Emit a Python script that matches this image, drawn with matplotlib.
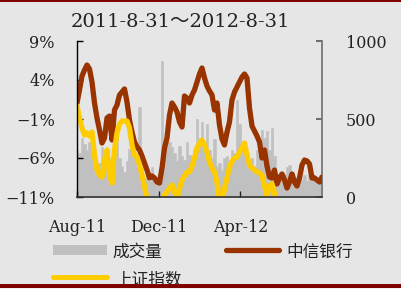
import matplotlib
matplotlib.use("Agg")
import matplotlib.pyplot as plt
from matplotlib.patches import Rectangle
from matplotlib.lines import Line2D

# ---------------- data ----------------
title = "2011-8-31～2012-8-31"
x_tick_labels = ["Aug-11", "Dec-11", "Apr-12"]
left_tick_values = [9, 4, -1, -6, -11]
left_tick_labels = ["9%", "4%", "−1%", "−6%", "−11%"]
right_tick_values = [0, 500, 1000]
series_names = ["成交量", "中信银行", "上证指数"]

citic = [1.05, 2.72, 4.51, 5.28, 5.92, 5.41, 3.74, 1.05, -0.87, -2.41,
         -4.08, -3.44, -0.87, -0.62, -3.69, 0.15, 0.79, 2.08, 2.46, 2.85,
         1.18, -1.13, -2.67, -3.95, -4.59, -4.97, -5.74, -6.64, -7.54, -8.56,
         -8.31, -8.56, -9.08, -9.21, -7.28, -4.72, -3.44, -0.49, 1.05, 0.54,
         -0.10, -1.38, -2.03, 1.95, 1.69, 1.05, 2.08, 2.72, 3.74, 4.77,
         5.54, 4.26, 3.23, 2.59, 2.08, 0.15, 1.05, -1.77, -3.56, -4.33,
         -2.67, -1.38, 1.44, 2.46, 3.10, 3.74, 4.38, 4.77, 4.26, 0.41,
         -1.90, -2.54, -3.18, -3.95, -6.00, -4.97, -7.03, -8.44, -8.56, -7.54,
         -9.33, -8.56, -8.05, -8.82, -9.85, -9.08, -8.05, -9.08, -9.59, -8.56,
         -6.90, -6.26, -6.38, -6.77, -8.56, -8.56, -8.82, -9.08, -8.44]

shindex = [0.67, -0.87, -2.15, -3.05, -2.79, -3.18, -2.67, -5.62, -7.54, -8.18,
           -8.44, -6.26, -4.97, -8.18, -9.21, -4.97, -2.79, -1.64, -1.26, -1.26,
           -1.26, -2.15, -4.33, -5.62, -5.87, -6.90, -8.18, -9.59, -11.38, -12.67,
           -13.3, -13.3, -12.9, -12.4, -11.8, -10.74, -10.36, -9.85, -9.46, -10.36,
           -11.13, -9.85, -8.82, -8.31, -7.79, -7.79, -7.03, -6.00, -4.72, -4.08,
           -3.69, -4.33, -5.23, -6.51, -7.28, -7.79, -9.08, -11.4, -11.6, -9.85,
           -8.56, -7.15, -6.38, -6.00, -5.87, -5.23, -4.72, -4.08, -5.62, -6.90,
           -7.28, -7.54, -7.79, -7.92, -8.18, -9.59, -10.87, -9.59, -9.33, -10.49,
           -11.6, -12.0, -12.5, -12.8, -13.0, -12.6, -12.9, -13.2, -13.0, -12.7,
           -12.4, -12.2, -12.5, -12.8, -13.0, -12.9, -13.1, -12.8, -12.6]

volume = [300, 280, 380, 340, 300, 350, 260, 200, 160, 220,
          320, 250, 180, 250, 200, 300, 380, 250, 200, 160,
          230, 310, 400, 250, 200, 580, 190, 120, 170, 100,
          190, 130, 80, 150, 870, 250, 330, 350, 320, 280,
          230, 330, 260, 240, 350, 270, 230, 300, 500, 380,
          480, 340, 470, 300, 250, 370, 200, 220, 170, 250,
          260, 220, 300, 280, 620, 470, 300, 360, 280, 220,
          250, 200, 300, 260, 430, 380, 420, 300, 440, 260,
          90, 110, 100, 150, 190, 205, 150, 120, 110, 130,
          110, 140, 100, 155, 120, 110, 100, 90, 100]

# ---------------- figure ----------------
W, H = 402, 289
BG = "#E6E6E6"
BROWN = "#993300"
YELLOW = "#FFCC00"
GRAY = "#C0C0C0"
BORDER = "#800000"

fig = plt.figure(figsize=(W / 100, H / 100), dpi=100, facecolor=BG)

x = list(range(len(citic)))
xv = list(range(len(volume)))
n_last = len(citic) - 1

ax = fig.add_axes([77 / W, (H - 197) / H, 245 / W, 156 / H])
ax2 = ax.twinx()
ax.set_zorder(ax2.get_zorder() + 1)
ax.patch.set_visible(False)
ax2.patch.set_visible(False)

# volume on the right axis
ax2.fill_between(xv, volume, 0, step="mid", color=GRAY, linewidth=0.4, edgecolor=GRAY)
ax2.set_ylim(0, 1000)
ax2.set_yticks(right_tick_values)
ax2.set_yticklabels([str(v) for v in right_tick_values])

# lines on the left axis
ax.plot(x, citic, color=BROWN, lw=3.8, solid_joinstyle="round", solid_capstyle="round")
ax.plot(x, shindex, color=YELLOW, lw=3.8, solid_joinstyle="round", solid_capstyle="round")
ax.set_ylim(-11, 9)
ax.set_xlim(0, n_last)
ax.set_yticks(left_tick_values)
ax.set_yticklabels(left_tick_labels)
ax.set_xticks([0, n_last / 3, 2 * n_last / 3])
ax.set_xticklabels(x_tick_labels)

for a in (ax, ax2):
    for lab in a.get_xticklabels() + a.get_yticklabels():
        lab.set_fontfamily("DejaVu Serif")
        lab.set_fontsize(11.5)
        lab.set_color("#222222")
    a.spines["top"].set_visible(False)

ax.tick_params(axis="y", direction="in", length=4, width=1, color="black", pad=16)
ax.tick_params(axis="x", direction="in", length=4, width=1, color="#222222", pad=16)
ax2.tick_params(axis="y", direction="in", length=4, width=1.2, color="#555555", pad=17)
ax.spines["left"].set_color("black")
ax.spines["left"].set_linewidth(1)
ax.spines["right"].set_visible(False)
ax.spines["bottom"].set_color("#333333")
ax.spines["bottom"].set_linewidth(1.2)
ax2.spines["left"].set_visible(False)
ax2.spines["bottom"].set_visible(False)
ax2.spines["right"].set_color("#777777")
ax2.spines["right"].set_linewidth(1.3)

# title
fig.text(180 / W, 1 - 22 / H, title, ha="center", va="center",
         fontsize=14, family=["DejaVu Serif", "Noto Sans CJK SC"], color="#222222")

# overlay in pixel coords for legend + borders
lax = fig.add_axes([0, 0, 1, 1], zorder=-1)
lax.set_xlim(0, W)
lax.set_ylim(H, 0)
lax.axis("off")

cjk = ["Noto Sans CJK SC", "DejaVu Sans"]
lax.add_patch(Rectangle((53, 244.5), 54, 10.5, color=GRAY, lw=0))
lax.text(112, 252.5, series_names[0], ha="left", va="center", fontsize=12, family=cjk, color="#222222")
lax.add_line(Line2D([226, 279], [250, 250], color=BROWN, lw=3.8, solid_capstyle="round"))
lax.text(286, 252.5, series_names[1], ha="left", va="center", fontsize=12, family=cjk, color="#222222")
lax.add_line(Line2D([53, 107], [277, 277], color=YELLOW, lw=3.6, solid_capstyle="round"))
lax.text(115, 280, series_names[2], ha="left", va="center", fontsize=12, family=cjk, color="#222222")

# borders
lax.add_patch(Rectangle((0, 0), W, 2, color=BORDER, lw=0, zorder=5))
lax.add_patch(Rectangle((0, 284), W, 3.5, color=BORDER, lw=0, zorder=5))
lax.add_patch(Rectangle((0, 287.5), W, 2, color="#F0F0F0", lw=0, zorder=5))

fig.savefig("out.png", dpi=100, facecolor=BG)
